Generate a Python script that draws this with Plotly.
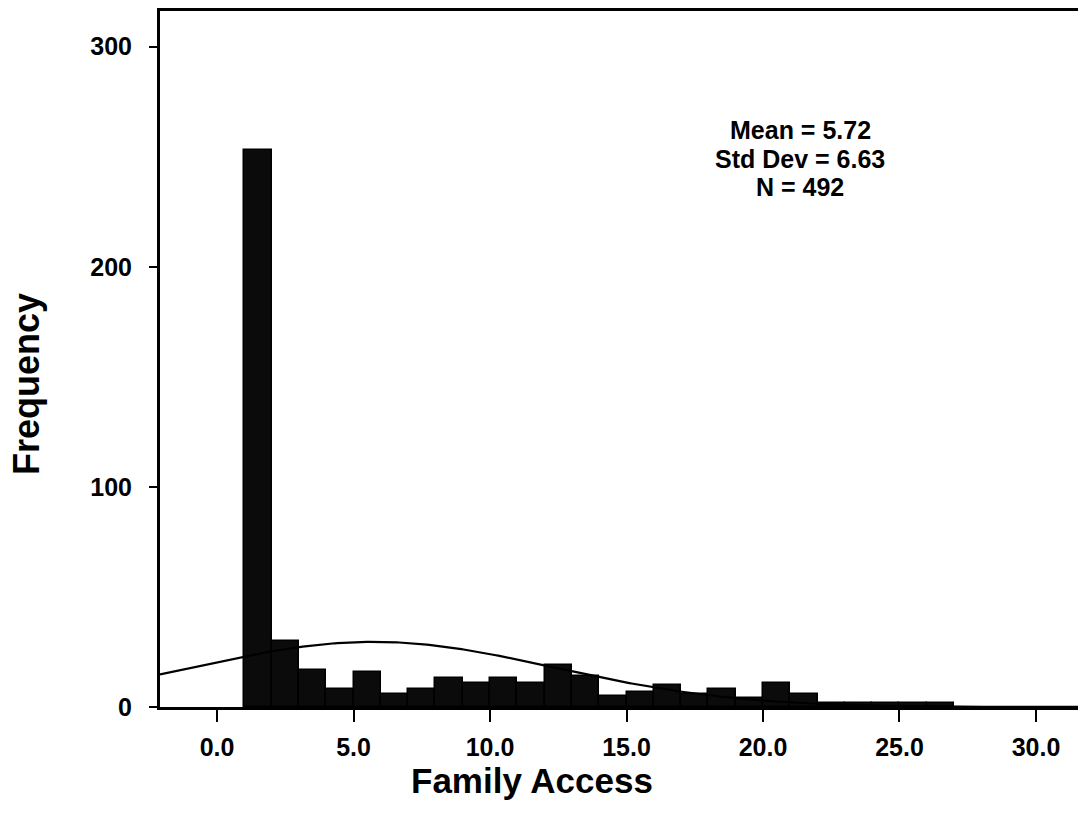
import numpy as np
import plotly.graph_objects as go

# Histogram bins (width 1.0), left edges and frequencies
bin_left = [1, 2, 3, 4, 5, 6, 7, 8, 9, 10, 11, 12, 13, 14, 15, 16, 17, 18, 19, 20, 21, 22, 23, 24, 25, 26]
freq = [253, 30, 17, 8, 16, 6, 8, 13, 11, 13, 11, 19, 14, 5, 7, 10, 6, 8, 4, 11, 6, 2, 2, 2, 2, 2]

mean_val = 5.72
std_val = 6.63
n_val = 492
bin_width = 1.0

x_ticks = [0, 5, 10, 15, 20, 25, 30]
x_tick_text = ["0.0", "5.0", "10.0", "15.0", "20.0", "25.0", "30.0"]
y_ticks = [0, 100, 200, 300]

x_title = "Family Access"
y_title = "Frequency"
stats_lines = [f"Mean = {mean_val:.2f}", f"Std Dev = {std_val:.2f}", f"N = {n_val}"]

x_range = [-2.09, 31.54]
y_range = [0, 316.2]

FONT = "Liberation Sans, Arial, sans-serif"

fig = go.Figure()

fig.add_trace(go.Bar(
    x=[b + bin_width / 2 for b in bin_left],
    y=freq,
    width=bin_width,
    marker=dict(color="#0b0b0b", line=dict(color="black", width=1.5)),
    showlegend=False,
))

# fitted normal curve (scaled by N * bin width)
xc = np.linspace(x_range[0], x_range[1], 400)
yc = n_val * bin_width / (std_val * np.sqrt(2 * np.pi)) * np.exp(-0.5 * ((xc - mean_val) / std_val) ** 2)
fig.add_trace(go.Scatter(x=xc, y=yc, mode="lines", line=dict(color="black", width=2.2),
                         showlegend=False, cliponaxis=True))

# statistics box text, one annotation per line
for i, line in enumerate(stats_lines):
    ypix = 130 + 28.5 * i
    fig.add_annotation(
        x=(800 - 160) / 918, y=(707 - ypix) / 696, xref="paper", yref="paper",
        xanchor="center", yanchor="middle", showarrow=False,
        text=line, font=dict(family=FONT, size=25, color="black", weight="bold"),
    )

# axis titles placed as in the reference (the original plot extended past the crop)
fig.add_annotation(
    x=(532 - 160) / 918, y=-(780 - 707) / 696, xref="paper", yref="paper",
    xanchor="center", yanchor="middle", showarrow=False,
    text=f"<b>{x_title}</b>", font=dict(family=FONT, size=35, color="black"),
)
fig.add_annotation(
    x=-(160 - 26) / 918, y=(707 - 384) / 696, xref="paper", yref="paper",
    xanchor="center", yanchor="middle", showarrow=False, textangle=-90,
    text=f"<b>{y_title}</b>", font=dict(family=FONT, size=36, color="black"),
)

fig.update_layout(
    width=1078, height=824,
    margin=dict(l=160, r=0, t=11, b=117),
    paper_bgcolor="white", plot_bgcolor="white",
    bargap=0,
    font=dict(family=FONT, color="black"),
    xaxis=dict(
        range=x_range, tickvals=x_ticks, ticktext=x_tick_text,
        showgrid=False, zeroline=False,
        showline=True, linecolor="black", linewidth=3, mirror=True,
        ticks="outside", ticklen=12, tickwidth=2, tickcolor="black",
        tickfont=dict(family=FONT, size=25, color="black", weight="bold"),
        ticklabelstandoff=4,
    ),
    yaxis=dict(
        range=y_range, tickvals=y_ticks,
        showgrid=False, zeroline=False,
        showline=True, linecolor="black", linewidth=3,
        ticks="outside", ticklen=8, tickwidth=2, tickcolor="black",
        tickfont=dict(family=FONT, size=25, color="black", weight="bold"),
        ticklabelstandoff=12,
    ),
)

fig.write_html("out.html")
